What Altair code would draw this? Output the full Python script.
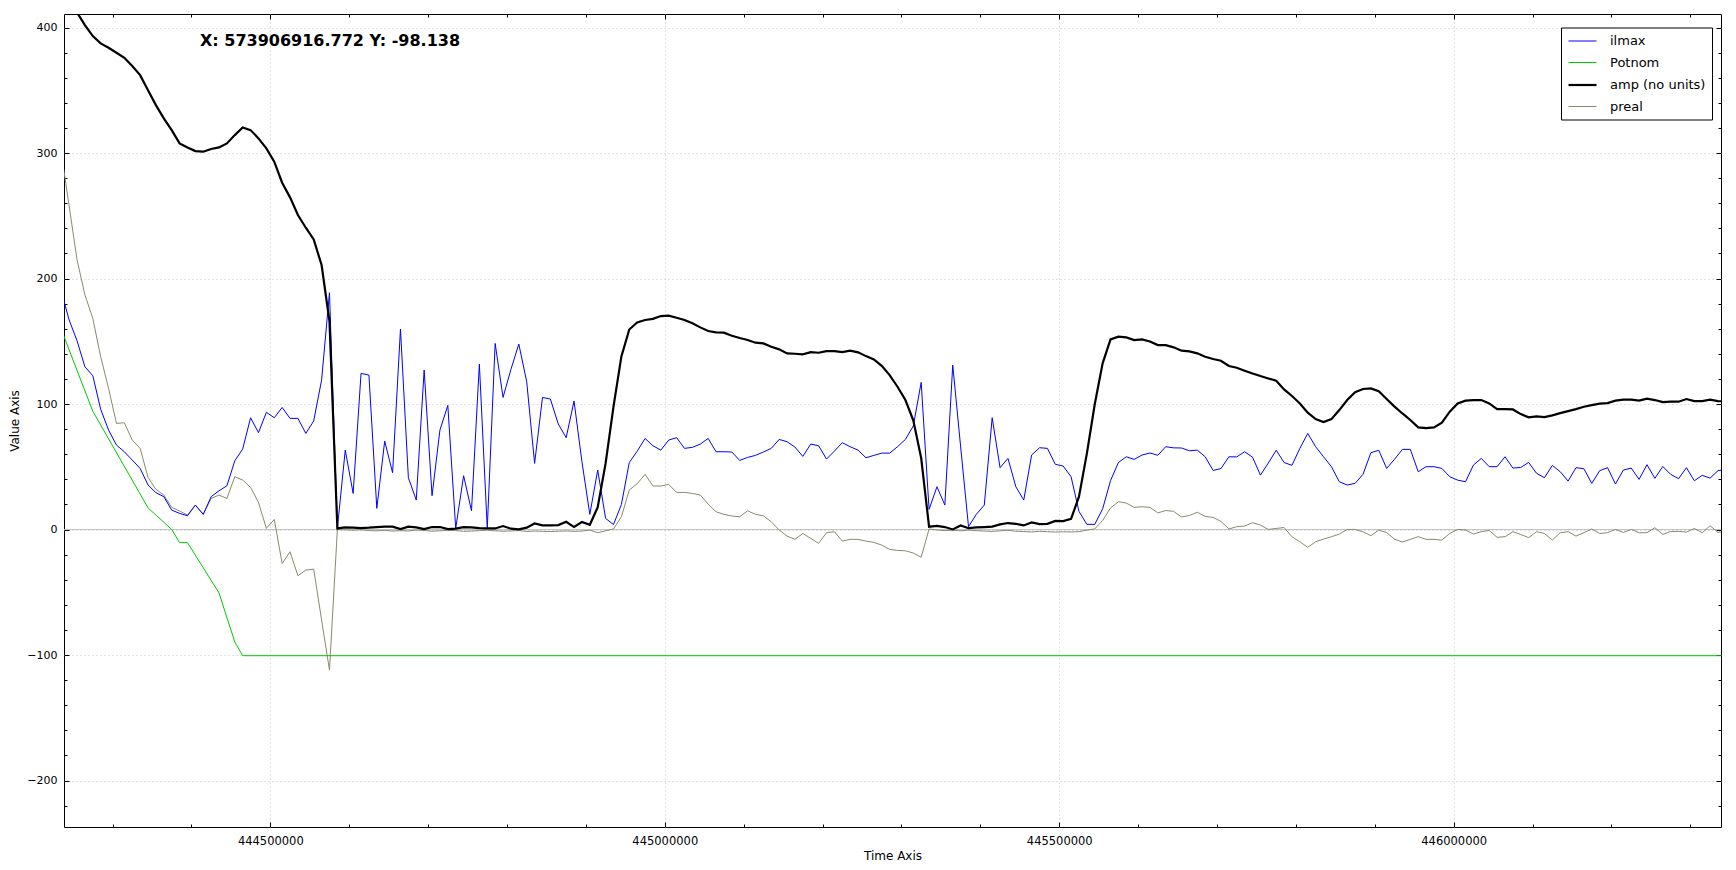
import altair as alt
import pandas as pd

# ---------------- data ----------------
NAMES = ["ilmax", "Potnom", "amp (no units)", "preal"]
COLORS = ["#0000ff", "#00c800", "#000000", "#8a8a6a"]
WIDTHS = [1.0, 1.0, 2.2, 1.0]

T_FIRST = 444235000   # time of the first sample
T_STEP = 10000        # sampling step of the time axis

ilmax = [
    190, 167, 150.5, 129.7, 122.6, 95.8, 79.3, 67.3, 62.0, 55.4,
    48.7, 35.5, 29.4, 26.2, 15.5, 12.9, 11.0, 19.5, 12.1, 26.2,
    30.9, 34.9, 54.8, 64.2, 89.1, 77.2, 93.4, 89.1, 97.3, 88.6,
    88.6, 76.6, 86.5, 119.1, 188.7, 0.9, 63.3, 28.8, 124.4, 123.1,
    16.9, 70.5, 45.3, 159.8, 41.3, 23.5, 127.1, 27.0, 79.3, 98.9,
    0.9, 42.9, 15.0, 131.9, 0.9, 148.3, 105.3, 127.6, 147.8, 117.8,
    52.7, 105.3, 104.0, 84.1, 73.2, 102.4, 54.1, 12.1, 47.4, 8.9,
    4.0, 19.9, 53.4, 62.4, 72.6, 66.8, 63.3, 71.3, 73.2, 64.7,
    65.5, 68.1, 72.6, 62.0, 62.0, 61.8, 55.1, 57.5, 59.1, 61.8,
    64.7, 71.8, 70.0, 65.7, 58.3, 68.1, 66.8, 56.2, 62.5, 69.2,
    66.0, 63.3, 57.2, 59.1, 60.9, 60.9, 66.0, 71.8, 82.5, 117.3,
    16.1, 34.1, 19.5, 131.1, 66.0, 2.3, 12.2, 19.5, 89.1, 49.3,
    56.7, 34.1, 23.5, 59.4, 65.2, 64.7, 52.0, 50.6, 42.1, 14.5,
    4.2, 4.1, 16.5, 39.0, 53.4, 58.0, 55.9, 59.4, 61.0, 59.2,
    66.0, 65.1, 65.0, 62.8, 63.3, 58.0, 47.1, 48.6, 58.0, 57.9,
    62.0, 57.7, 43.4, 53.0, 63.2, 53.4, 51.2, 64.7, 76.6, 66.0,
    58.0, 50.1, 38.1, 35.5, 36.8, 44.0, 61.2, 63.2, 48.7, 56.0,
    63.9, 63.9, 46.1, 50.1, 50.1, 48.7, 42.1, 39.4, 38.1, 51.4,
    56.7, 50.1, 50.1, 58.0, 49.0, 49.5, 53.5, 44.8, 41.3, 51.1,
    46.1, 38.6, 49.3, 48.5, 36.8, 46.9, 49.3, 36.3, 47.4, 49.0,
    40.0, 51.7, 40.8, 50.3, 44.0, 40.5, 49.3, 38.9, 43.2, 41.0,
    46.9, 48.0,
]

amp = [
    440, 426, 412, 402.0, 393.2, 387.4, 383.9, 379.9, 375.9, 369.3,
    362.1, 350.1, 338.2, 327.6, 318.3, 307.7, 304.5, 301.6, 301.1, 303.2,
    304.5, 307.7, 314.3, 320.4, 318.3, 311.7, 303.7, 293.1, 276.4, 264.7,
    250.6, 240.5, 231.2, 210.8, 166.0, 0.9, 1.7, 1.5, 1.2, 1.5,
    2.0, 2.3, 2.3, 0.4, 2.3, 1.7, 0.4, 2.0, 2.0, 0.4,
    0.7, 2.0, 1.7, 1.2, 0.9, 0.9, 2.8, 0.7, 0.1, 1.5,
    4.9, 3.3, 3.3, 3.6, 6.2, 2.0, 6.0, 3.8, 17.8, 52.7,
    97.9, 138.0, 159.4, 165.0, 167.0, 167.9, 170.1, 170.4, 168.8, 167.0,
    164.3, 161.1, 158.2, 157.1, 156.9, 154.4, 152.6, 151.0, 148.9, 148.3,
    145.7, 143.6, 140.4, 140.1, 139.6, 141.4, 140.9, 142.2, 142.2, 141.4,
    142.5, 141.2, 138.2, 135.6, 130.5, 123.1, 113.8, 103.2, 87.0, 57.0,
    2.3, 3.0, 2.0, 0.1, 3.3, 1.1, 1.8, 2.0, 2.3, 4.1,
    5.2, 4.6, 3.3, 5.7, 4.4, 4.6, 6.9, 6.8, 8.5, 26.2,
    60.5, 99.8, 132.4, 151.5, 153.7, 153.1, 151.0, 151.5, 149.9, 147.0,
    147.0, 145.2, 142.5, 142.0, 140.4, 137.7, 135.9, 134.5, 130.3, 128.9,
    126.6, 124.4, 122.3, 120.4, 118.6, 111.7, 106.4, 100.5, 93.1, 88.0,
    85.7, 88.0, 95.2, 103.2, 109.5, 112.0, 112.5, 110.2, 104.0, 98.0,
    92.5, 87.3, 81.4, 80.9, 81.4, 85.1, 93.9, 100.5, 102.7, 103.2,
    103.2, 100.5, 96.0, 96.0, 95.7, 92.0, 89.4, 90.2, 89.6, 91.0,
    92.8, 94.4, 96.0, 97.9, 99.2, 100.3, 100.8, 102.7, 103.5, 103.5,
    102.7, 104.3, 103.2, 101.6, 101.9, 101.9, 104.0, 102.4, 102.4, 103.5,
    102.4, 102.0,
]

preal = [
    300, 258, 215, 187, 168.3, 137.7, 112.5, 84.6, 85.1, 71.3,
    64.7, 41.6, 32.0, 27.5, 17.7, 14.8, 11.6, 19.5, 12.1, 24.8,
    27.5, 24.8, 42.1, 39.4, 33.6, 21.6, 0.9, 8.1, -27.0, -17.7,
    -36.8, -32.3, -31.5, -72.0, -112.0, 0.0, -0.3, -0.5, -0.2, -0.8,
    -1.0, -0.6, -1.2, -0.9, -1.1, -0.4, -0.7, -1.3, -1.0, -0.6,
    -0.8, -1.4, -1.2, -0.9, -0.5, -1.0, -1.3, -1.1, -0.8, -1.5,
    -1.2, -1.4, -1.6, -1.3, -1.1, -1.4, -1.2, -0.4, -2.5, -1.0,
    0.5, 10.2, 31.5, 36.5, 44.0, 34.7, 34.7, 36.0, 29.6, 29.6,
    28.8, 27.5, 20.3, 14.2, 12.1, 10.8, 10.2, 15.0, 12.1, 11.0,
    6.2, -0.4, -5.2, -7.8, -3.1, -7.0, -11.0, -2.5, -1.7, -9.2,
    -7.8, -7.8, -9.2, -10.2, -12.4, -15.8, -16.6, -16.9, -18.7, -22.0,
    0.5, -0.3, -0.8, -0.5, -1.0, -0.4, -0.9, -1.2, -1.5, -1.0,
    -0.6, -1.3, -1.6, -1.9, -1.4, -1.7, -2.0, -1.8, -1.9, -1.7,
    -0.4, 0.5, 7.3, 17.2, 22.2, 21.1, 17.7, 18.2, 17.7, 13.2,
    15.2, 14.5, 10.0, 11.2, 13.8, 10.5, 9.7, 6.5, 0.5, 2.3,
    2.8, 5.5, 3.6, 0.1, 0.9, 1.6, -5.7, -9.7, -14.2, -9.7,
    -7.6, -5.7, -3.6, 0.1, 0.1, -1.8, -4.9, -0.4, -2.4, -7.7,
    -9.9, -7.8, -5.7, -7.8, -7.8, -8.4, -3.1, 0.1, -0.4, -3.6,
    -1.7, -0.7, -6.2, -5.7, -1.7, -3.9, -6.5, -1.7, -3.1, -8.4,
    -2.5, -1.7, -5.2, -2.5, 0.4, -3.1, -2.5, 0.1, -2.3, 0.1,
    -2.5, -2.5, 1.5, -3.9, -1.5, -1.5, -2.0, 0.9, -2.5, 3.1,
    -2.3, -1.0,
]

potnom_time = [444235000, 444275000, 444345000, 444375000, 444385000,
               444395000, 444435000, 444455000, 444465000, 446345000]
potnom = [159.5, 94.3, 17.3, 0.1, -10.4, -10.4, -50.5, -89.6, -100.5, -100.5]

x_major = [444500000, 445000000, 445500000, 446000000]
x_minor = [v for v in range(444300000, 446300001, 100000) if v not in x_major]
y_major = [-200, -100, 0, 100, 200, 300, 400]
y_minor = [v for v in range(-220, 401, 20) if v not in y_major]

annotation = "X: 573906916.772 Y: -98.138"

# ---------------- build table (drawing order: preal, Potnom, ilmax, amp) ----------------
rows = []
for i, v in enumerate(preal):
    rows.append({"t": T_FIRST + T_STEP * i, "v": v, "series": "preal"})
for t, v in zip(potnom_time, potnom):
    rows.append({"t": t, "v": v, "series": "Potnom"})
for i, v in enumerate(ilmax):
    rows.append({"t": T_FIRST + T_STEP * i, "v": v, "series": "ilmax"})
for i, v in enumerate(amp):
    rows.append({"t": T_FIRST + T_STEP * i, "v": v, "series": "amp (no units)"})
df = pd.DataFrame(rows)

W, H = 1657, 813
FONT = "DejaVu Sans"

xs = alt.Scale(domain=[444238500, 446338800], nice=False, zero=False)
ys = alt.Scale(domain=[-237.0, 410.8], nice=False, zero=False)

legend = alt.Legend(
    title=None, orient="none", legendX=1497, legendY=13.5,
    fillColor="white", strokeColor="black", padding=6,
    symbolType="M-1,0H3", symbolSize=196, rowPadding=6.5,
    labelFont=FONT, labelFontSize=13, labelColor="black", labelOffset=26,
)

x_axis = alt.Axis(
    values=x_major, format="d", ticks=False, domain=False, grid=True,
    gridColor="#c4c4c4", gridDash=[1, 3], gridWidth=1,
    labelFont=FONT, labelFontSize=11.5, labelColor="black", labelPadding=8,
    labelFlush=False, labelOverlap=False,
    title="Time Axis", titleFont=FONT, titleFontSize=12, titleFontWeight="normal",
    titleColor="black", titleY=32, titleBaseline="alphabetic",
)
y_axis = alt.Axis(
    values=y_major, format="d", ticks=False, domain=False, grid=True,
    gridColor="#c4c4c4", gridDash=[1, 3], gridWidth=1,
    labelFont=FONT, labelFontSize=11, labelColor="black", labelPadding=7,
    labelOverlap=False,
    title="Value Axis", titleFont=FONT, titleFontSize=12, titleFontWeight="normal",
    titleColor="black", titleX=-50, titleY=H / 2, titleAngle=270,
    titleAlign="center", titleBaseline="middle",
)

lines = alt.Chart(df).mark_line(clip=True).encode(
    x=alt.X("t:Q", scale=xs, axis=x_axis),
    y=alt.Y("v:Q", scale=ys, axis=y_axis),
    color=alt.Color("series:N", scale=alt.Scale(domain=NAMES, range=COLORS), legend=legend),
    strokeWidth=alt.StrokeWidth(
        "series:N", scale=alt.Scale(type="ordinal", domain=NAMES, range=WIDTHS), legend=legend
    ),
)

zero_rule = alt.Chart(pd.DataFrame({"v": [0]})).mark_rule(color="#c0c0c0", strokeWidth=1).encode(
    y=alt.Y("v:Q", scale=ys, axis=None)
)

text = alt.Chart(pd.DataFrame({"label": [annotation]})).mark_text(
    font=FONT, fontSize=16, fontWeight="bold", align="left", baseline="alphabetic", color="black"
).encode(text="label:N", x=alt.value(136), y=alt.value(31.7))

anchor = pd.DataFrame({"t": [445000000], "v": [0]})


def tick_layer(x_orient, y_orient, xv, yv, size):
    common = dict(ticks=True, tickSize=size, tickColor="black", tickWidth=1,
                  labels=False, domain=False, grid=False, title="")
    return alt.Chart(anchor).mark_point(opacity=0).encode(
        x=alt.X("t:Q", scale=xs, axis=alt.Axis(orient=x_orient, offset=-H, values=xv, **common)),
        y=alt.Y("v:Q", scale=ys, axis=alt.Axis(orient=y_orient, offset=-W, values=yv, **common)),
    )


t1 = tick_layer("top", "right", x_minor, y_minor, 3)
t2 = tick_layer("top", "right", x_major, y_major, 5)
t3 = tick_layer("bottom", "left", x_minor, y_minor, 3)
t4 = tick_layer("bottom", "left", x_major, y_major, 5)

chart = (
    alt.layer(zero_rule, lines, text, t1, t2, t3, t4)
    .resolve_axis(x="independent", y="independent")
    .properties(
        width=W, height=H,
        autosize=alt.AutoSizeParams(type="none"),
        padding={"left": 56, "top": 6, "right": 7, "bottom": 35},
        background="white",
    )
    .configure_view(stroke="black", strokeWidth=1)
)

chart.save("out.html", embed_options={"renderer": "svg", "actions": False})
